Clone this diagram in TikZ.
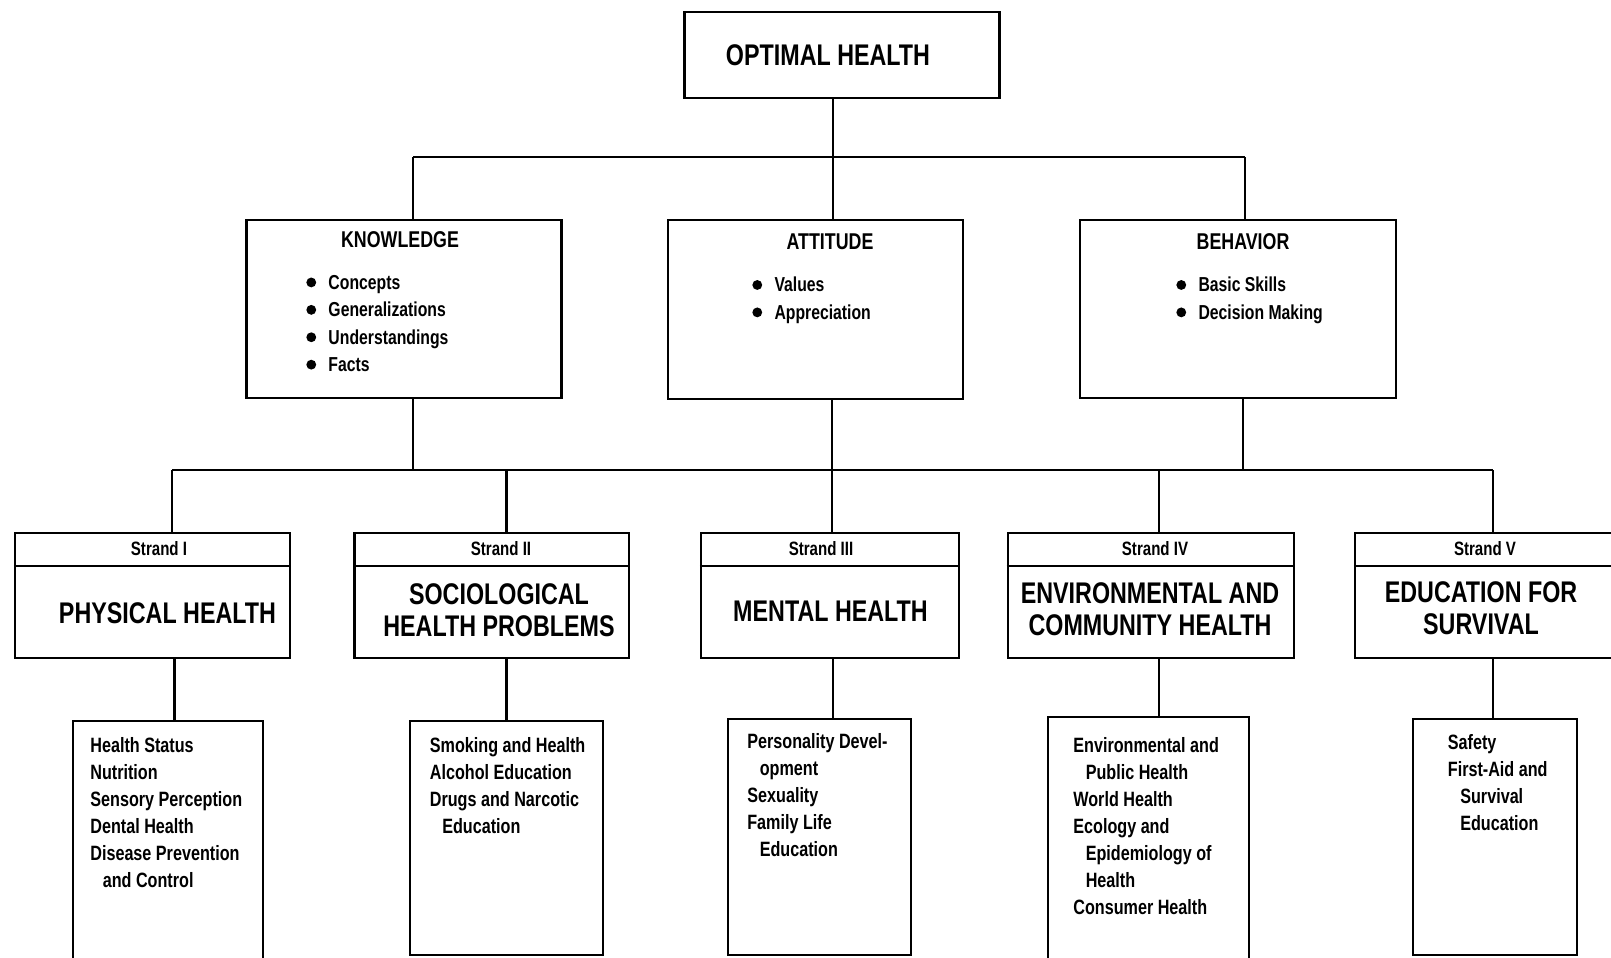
\documentclass[tikz,border=0pt]{standalone}
\usepackage{fontspec}
\setmainfont{Liberation Sans}[FakeStretch=0.78]
\usepackage{tikz}
\usetikzlibrary{positioning}

\newcommand{\dotitem}{\tikz[baseline=-4pt]\fill (0,0) circle (2.8pt);\hspace{7pt}}
\newcommand{\ind}{\hspace*{0.6em}}

\begin{document}
\begin{tikzpicture}[
    x=0.02cm, y=-0.02cm,
    panel/.style={rectangle, draw=black, line width=1.4pt, inner sep=0pt},
    heading/.style={font=\fontsize{17}{18.5}\selectfont\bfseries, align=center, inner sep=0pt},
    topic/.style={font=\fontsize{13}{15}\selectfont\bfseries, inner sep=0pt},
    strandno/.style={font=\fontsize{11}{13}\selectfont\bfseries, inner sep=0pt},
    itemlist/.style={font=\fontsize{11.5}{15.6}\selectfont\bfseries, align=left, inner sep=0pt, anchor=north west},
    sublist/.style={font=\fontsize{11.8}{15.4}\selectfont\bfseries, align=left, inner sep=0pt, anchor=north west},
    link/.style={line width=1.4pt}
]
    \path[use as bounding box] (0,0) rectangle (1611,957);
    \clip (0,0) rectangle (1611,957);

    % top
    \node[panel, minimum width=6.3cm, minimum height=1.72cm] (optimal) at (842,55) {};
    \node[heading] (optimaltxt) at (828,55) {OPTIMAL HEALTH};

    % domains
    \node[panel, minimum width=6.3cm, minimum height=3.56cm] (know) at (404,309) {};
    \node[panel, minimum width=5.9cm, minimum height=3.58cm] (att) at (815.5,309.5) {};
    \node[panel, minimum width=6.32cm, minimum height=3.56cm] (beh) at (1238,309) {};
    \node[topic] (knowtxt) at (400,240) {KNOWLEDGE};
    \node[topic] (atttxt) at (830,242) {ATTITUDE};
    \node[topic] (behtxt) at (1243,242) {BEHAVIOR};
    \node[itemlist] (knowlist) at (306,275) {\dotitem Concepts\\\dotitem Generalizations\\\dotitem Understandings\\\dotitem Facts};
    \node[itemlist] (attlist) at (752,277) {\dotitem Values\\\dotitem Appreciation};
    \node[itemlist] (behlist) at (1176,277) {\dotitem Basic Skills\\\dotitem Decision Making};

    % strands
    \node[panel, minimum width=5.5cm, minimum height=2.5cm] (str1) at (152.5,595.5) {};
    \node[panel, minimum width=5.49cm, minimum height=2.5cm] (str2) at (491.75,595.5) {};
    \node[panel, minimum width=5.16cm, minimum height=2.5cm] (str3) at (830,595.5) {};
    \node[panel, minimum width=5.73cm, minimum height=2.5cm] (str4) at (1151,595.5) {};
    \node[panel, minimum width=5.4cm, minimum height=2.5cm] (str5) at (1490,595.5) {};
    \draw[link] ([yshift=-0.68cm]str1.north west) -- ([yshift=-0.68cm]str1.north east);
    \draw[link] ([yshift=-0.68cm]str2.north west) -- ([yshift=-0.68cm]str2.north east);
    \draw[link] ([yshift=-0.68cm]str3.north west) -- ([yshift=-0.68cm]str3.north east);
    \draw[link] ([yshift=-0.68cm]str4.north west) -- ([yshift=-0.68cm]str4.north east);
    \draw[link] ([yshift=-0.68cm]str5.north west) -- ([yshift=-0.68cm]str5.north east);
    \node[strandno] (no1) at (159,549) {Strand I};
    \node[strandno] (no2) at (501,549) {Strand II};
    \node[strandno] (no3) at (821,549) {Strand III};
    \node[strandno] (no4) at (1155,549) {Strand IV};
    \node[strandno] (no5) at (1485,549) {Strand V};
    \node[heading] (head1) at (167.5,613) {PHYSICAL HEALTH};
    \node[heading] (head2) at (499,610) {SOCIOLOGICAL\\HEALTH PROBLEMS};
    \node[heading] (head3) at (830.5,611) {MENTAL HEALTH};
    \node[heading] (head4) at (1150,609) {ENVIRONMENTAL AND\\COMMUNITY HEALTH};
    \node[heading] (head5) at (1481,608) {EDUCATION FOR\\SURVIVAL};

    % topics
    \node[panel, minimum width=3.8cm, minimum height=4.88cm] (top1) at (168,843) {};
    \node[panel, minimum width=3.86cm, minimum height=4.68cm] (top2) at (506.5,838) {};
    \node[panel, minimum width=3.66cm, minimum height=4.72cm] (top3) at (819.5,837) {};
    \node[panel, minimum width=4.02cm, minimum height=4.96cm] (top4) at (1148.5,841) {};
    \node[panel, minimum width=3.28cm, minimum height=4.72cm] (top5) at (1495,837) {};
    \node[sublist] (list1) at (90,737) {Health Status\\Nutrition\\Sensory Perception\\Dental Health\\Disease Prevention\\\ind and Control};
    \node[sublist] (list2) at (429.5,737) {Smoking and Health\\Alcohol Education\\Drugs and Narcotic\\\ind Education};
    \node[sublist] (list3) at (747,733) {Personality Devel-\\\ind opment\\Sexuality\\Family Life\\\ind Education};
    \node[sublist] (list4) at (1073,737) {Environmental and\\\ind Public Health\\World Health\\Ecology and\\\ind Epidemiology of\\\ind Health\\Consumer Health};
    \node[sublist] (list5) at (1447.5,734) {Safety\\First-Aid and\\\ind Survival\\\ind Education};

    % first bus
    \coordinate (j0) at (833,157);
    \coordinate (jk) at (413,157);
    \coordinate (jb) at (1245,157);
    \draw[link] (optimal.south -| j0) -- (j0);
    \draw[link] (jk) -- (jb);
    \draw[link] (jk) -- (jk |- know.north);
    \draw[link] (j0) -- (j0 |- att.north);
    \draw[link] (jb) -- (jb |- beh.north);

    % second bus
    \coordinate (k2) at (413,470);
    \coordinate (a2) at (832,470);
    \coordinate (b2) at (1243,470);
    \coordinate (s1) at (172,470);
    \coordinate (s2) at (506.5,470);
    \coordinate (s4) at (1159,470);
    \coordinate (s5) at (1493,470);
    \draw[link] (s1) -- (s5);
    \draw[link] (know.south -| k2) -- (k2);
    \draw[link] (att.south -| a2) -- (a2) -- (a2 |- str3.north);
    \draw[link] (beh.south -| b2) -- (b2);
    \draw[link] (s1) -- (s1 |- str1.north);
    \draw[link] (s2) -- (s2 |- str2.north);
    \draw[link] (s4) -- (s4 |- str4.north);
    \draw[link] (s5) -- (s5 |- str5.north);

    % down to topics
    \coordinate (d1) at (174.5,690);
    \coordinate (d2) at (506.5,690);
    \coordinate (d3) at (833,690);
    \coordinate (d4) at (1159,690);
    \coordinate (d5) at (1493,690);
    \draw[link] (str1.south -| d1) -- (d1 |- top1.north);
    \draw[link] (str2.south -| d2) -- (d2 |- top2.north);
    \draw[link] (str3.south -| d3) -- (d3 |- top3.north);
    \draw[link] (str4.south -| d4) -- (d4 |- top4.north);
    \draw[link] (str5.south -| d5) -- (d5 |- top5.north);
\end{tikzpicture}
\end{document}
